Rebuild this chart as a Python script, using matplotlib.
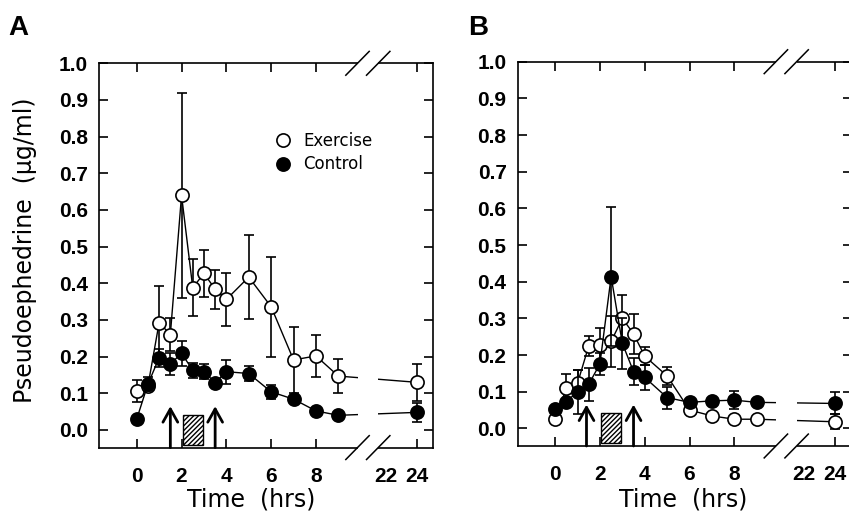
import numpy as np
import matplotlib
matplotlib.use("Agg")
import matplotlib.pyplot as plt
from matplotlib.lines import Line2D
from matplotlib.patches import Rectangle
from matplotlib.ticker import FormatStrFormatter

# sampling times (hrs)
times = [0, 0.5, 1, 1.5, 2, 2.5, 3, 3.5, 4, 5, 6, 7, 8, 9, 24]

# panel A
exercise_a = [0.105, 0.12, 0.293, 0.26, 0.64, 0.388, 0.427, 0.384, 0.356, 0.417, 0.336, 0.191, 0.202, 0.147, 0.13]
exercise_a_err = [0.03, 0, 0.1, 0.045, 0.28, 0.078, 0.065, 0.053, 0.073, 0.115, 0.136, 0.09, 0.058, 0.047, 0.05]
control_a = [0.03, 0.125, 0.197, 0.18, 0.209, 0.163, 0.159, 0.129, 0.159, 0.154, 0.104, 0.084, 0.052, 0.04, 0.048]
control_a_err = [0, 0.02, 0.025, 0.03, 0.035, 0.02, 0.02, 0, 0.033, 0.02, 0.02, 0, 0, 0, 0.026]

# panel B
exercise_b = [0.025, 0.109, 0.123, 0.225, 0.228, 0.237, 0.30, 0.258, 0.197, 0.143, 0.05, 0.034, 0.025, 0.025, 0.018]
exercise_b_err = [0, 0.04, 0.035, 0.027, 0.045, 0.07, 0.065, 0.055, 0.025, 0.024, 0.01, 0, 0, 0, 0.02]
control_b = [0.052, 0.073, 0.1, 0.12, 0.176, 0.414, 0.232, 0.155, 0.139, 0.084, 0.071, 0.075, 0.077, 0.071, 0.068]
control_b_err = [0, 0, 0.06, 0.044, 0.03, 0.19, 0.07, 0.037, 0.034, 0.03, 0, 0, 0.025, 0, 0.03]

# dose arrows and hatched exercise box (hrs)
arrows_a = [1.5, 3.5]
arrows_b = [1.4, 3.5]
box_span = (2.07, 2.94)

x_ticks = [0, 2, 4, 6, 8, 24]
y_ticks = [0.0, 0.1, 0.2, 0.3, 0.4, 0.5, 0.6, 0.7, 0.8, 0.9, 1.0]

TICK_FONT = "Liberation Sans"
LABEL_FONT = "DejaVu Sans"


def _fwd(t):
    # squeeze 10..22 h into half an hour so 24 sits just past the break
    t = np.asarray(t, dtype=float)
    return np.where(t <= 10, t, np.where(t <= 22, 10 + (t - 10) / 24, t - 11.5))


def _inv(x):
    x = np.asarray(x, dtype=float)
    return np.where(x <= 10, x, np.where(x <= 10.5, 10 + (x - 10) * 24, x + 11.5))


def draw_panel(ax, ex, ex_err, ct, ct_err, arrows, xlabel_x, xlabel_y):
    ax.set_xscale("function", functions=(_fwd, _inv))
    ax.set_xlim(-1.67, 24.74)
    ax.set_ylim(-0.048, 1.0)

    common = dict(color="black", lw=1.0, ms=9.5, mew=1.2, capsize=3.5,
                  capthick=1.2, elinewidth=1.2, mec="black")
    ax.errorbar(times, ex, yerr=ex_err, marker="o", mfc="white", zorder=2, **common)
    ax.errorbar(times, ct, yerr=ct_err, marker="o", mfc="black", zorder=2.1, **common)

    for t in arrows:
        ax.annotate("", xy=(t, 0.065), xytext=(t, -0.048),
                    arrowprops=dict(arrowstyle="->,head_length=0.5,head_width=0.28",
                                    lw=2.0, color="black", mutation_scale=19,
                                    shrinkA=0, shrinkB=0))
    ax.add_patch(Rectangle((box_span[0], -0.04), box_span[1] - box_span[0], 0.082,
                           fill=False, hatch="///////", lw=1.0, ec="black"))

    # axis break: blank the frame and the joining lines, then draw the slashes
    ax.add_patch(Rectangle((0.773, -0.01), 0.835 - 0.773, 1.02, transform=ax.transAxes,
                           fc="white", ec="none", clip_on=False, zorder=2.6))
    for xf in (0.773, 0.835):
        for yf in (0.0, 1.0):
            ax.plot([xf - 0.035, xf + 0.035], [yf - 0.031, yf + 0.031], color="black",
                    lw=1.1, transform=ax.transAxes, clip_on=False, zorder=5)

    ax.set_xticks(x_ticks, labels=[str(t) for t in x_ticks])
    ax.set_xticks([22.6], labels=["22"], minor=True)
    ax.set_yticks(y_ticks)
    ax.yaxis.set_major_formatter(FormatStrFormatter("%.1f"))
    ax.tick_params(which="major", direction="in", top=True, right=True,
                   length=6.5, width=1.2, labelsize=15)
    ax.tick_params(which="minor", direction="in", length=0, labelsize=15)
    ax.tick_params(axis="x", which="both", pad=14)
    ax.tick_params(axis="y", pad=8)
    for lbl in ax.get_xticklabels(minor=True) + ax.get_xticklabels() + ax.get_yticklabels():
        lbl.set_fontweight("bold")
        lbl.set_fontfamily(TICK_FONT)
    for sp in ax.spines.values():
        sp.set_linewidth(1.2)

    ax.set_xlabel("Time  (hrs)", fontsize=17, family=LABEL_FONT, va="center")
    ax.xaxis.set_label_coords(xlabel_x, xlabel_y)


fig = plt.figure(figsize=(8.49, 5.15), dpi=100)
ax_a = fig.add_axes([0.1170, 0.1309, 0.3934, 0.7462])
ax_b = fig.add_axes([0.6098, 0.1340, 0.3934, 0.7462])

draw_panel(ax_a, exercise_a, exercise_a_err, control_a, control_a_err, arrows_a, 0.456, -0.134)
draw_panel(ax_b, exercise_b, exercise_b_err, control_b, control_b_err, arrows_b, 0.496, -0.138)

ax_a.set_ylabel("Pseudoephedrine  (\u03bcg/ml)", fontsize=17, family=LABEL_FONT, va="center")
ax_a.yaxis.set_label_coords(-0.2225, 0.514)

handles = [
    Line2D([], [], ls="none", marker="o", ms=9.5, mfc="white", mec="black", mew=1.2),
    Line2D([], [], ls="none", marker="o", ms=9.5, mfc="black", mec="black", mew=1.2),
]
ax_a.legend(handles, ["Exercise", "Control"], loc="upper left", bbox_to_anchor=(0.525, 0.8225),
            frameon=False, borderpad=0, borderaxespad=0, handlelength=1.0, handletextpad=0.7,
            labelspacing=0.35, prop={"family": LABEL_FONT, "size": 12})

fig.text(8 / 849, 1 - 35 / 515, "A", fontsize=20, fontweight="bold", family=TICK_FONT, va="baseline")
fig.text(468 / 849, 1 - 35 / 515, "B", fontsize=20, fontweight="bold", family=TICK_FONT, va="baseline")

fig.savefig("out.png", dpi=100)
